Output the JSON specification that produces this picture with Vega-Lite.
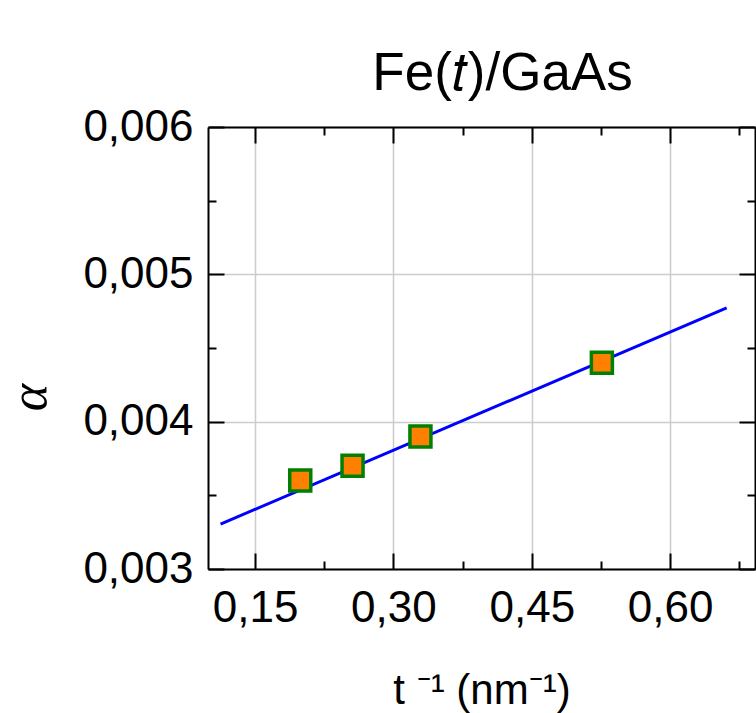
{
  "$schema": "https://vega.github.io/schema/vega-lite/v6.json",
  "width": 547,
  "height": 442,
  "autosize": {"type": "none"},
  "padding": {"left": 208, "top": 127, "right": 1, "bottom": 144},
  "background": "white",
  "config": {
    "view": {"stroke": null},
    "font": "Liberation Sans",
    "axis": {
      "domainColor": "black",
      "domainWidth": 2,
      "tickColor": "black",
      "tickWidth": 2,
      "labelFont": "Liberation Sans",
      "labelFontSize": 44,
      "labelColor": "black",
      "gridColor": "#cccccc",
      "gridWidth": 1.5
    }
  },
  "title": {
    "text": "Fe(𝑡)/GaAs",
    "font": "Liberation Sans",
    "fontSize": 53,
    "fontWeight": "normal",
    "color": "black",
    "anchor": "middle",
    "baseline": "alphabetic",
    "offset": -38,
    "dx": 21
  },
  "datasets": {
    "points": [
      {"t_inv": 0.199, "alpha": 0.0036},
      {"t_inv": 0.2557, "alpha": 0.0037},
      {"t_inv": 0.3293, "alpha": 0.0039},
      {"t_inv": 0.526, "alpha": 0.0044}
    ],
    "fit": [
      {"t_inv": 0.1126, "alpha": 0.003305},
      {"t_inv": 0.6613, "alpha": 0.004772}
    ]
  },
  "layer": [
    {
      "data": {"name": "fit"},
      "mark": {"type": "line", "color": "#0000ff", "strokeWidth": 3},
      "encoding": {
        "x": {
          "field": "t_inv",
          "type": "quantitative",
          "scale": {"domain": [0.099, 0.692], "nice": false, "zero": false},
          "axis": {
            "orient": "bottom",
            "values": [0.15, 0.225, 0.3, 0.375, 0.45, 0.525, 0.6, 0.675],
            "tickSize": {"condition": {"test": "abs(datum.value/0.15 - round(datum.value/0.15)) < 0.01", "value": -16}, "value": -8},
            "gridOpacity": {"condition": {"test": "abs(datum.value/0.15 - round(datum.value/0.15)) < 0.01", "value": 1}, "value": 0},
            "labelExpr": "abs(datum.value/0.15 - round(datum.value/0.15)) < 0.01 ? replace(format(datum.value, '.2f'), '.', ',') : ''",
            "labelPadding": 33,
            "title": "t ⁻¹ (nm⁻¹)",
            "titleFont": "Liberation Sans",
            "titleFontSize": 42,
            "titleFontWeight": "normal",
            "titleColor": "black",
            "titlePadding": 40
          }
        },
        "y": {
          "field": "alpha",
          "type": "quantitative",
          "scale": {"domain": [0.003, 0.006], "nice": false, "zero": false},
          "axis": {
            "orient": "left",
            "values": [0.003, 0.0035, 0.004, 0.0045, 0.005, 0.0055, 0.006],
            "tickSize": {"condition": {"test": "abs(datum.value*1000 - round(datum.value*1000)) < 0.01", "value": -16}, "value": -8},
            "gridOpacity": {"condition": {"test": "abs(datum.value*1000 - round(datum.value*1000)) < 0.01", "value": 1}, "value": 0},
            "labelExpr": "abs(datum.value*1000 - round(datum.value*1000)) < 0.01 ? replace(format(datum.value, '.3f'), '.', ',') : ''",
            "labelPadding": 31,
            "title": "α",
            "titleFont": "Liberation Serif",
            "titleFontStyle": "italic",
            "titleFontSize": 52,
            "titleFontWeight": "normal",
            "titleColor": "black",
            "titleX": -179,
            "titleY": 270,
            "titleAngle": -90,
            "titleAlign": "center",
            "titleBaseline": "middle"
          }
        }
      }
    },
    {
      "data": {"name": "points"},
      "mark": {"type": "point", "shape": "square", "size": 441, "filled": true, "fill": "#ff8000", "stroke": "#008000", "strokeWidth": 3.5, "opacity": 1},
      "encoding": {
        "x": {
          "field": "t_inv",
          "type": "quantitative",
          "axis": {
            "orient": "top",
            "values": [0.15, 0.225, 0.3, 0.375, 0.45, 0.525, 0.6, 0.675],
            "tickSize": {"condition": {"test": "abs(datum.value/0.15 - round(datum.value/0.15)) < 0.01", "value": -16}, "value": -8},
            "labels": false,
            "grid": false,
            "title": null
          }
        },
        "y": {
          "field": "alpha",
          "type": "quantitative",
          "axis": {
            "orient": "right",
            "values": [0.003, 0.0035, 0.004, 0.0045, 0.005, 0.0055, 0.006],
            "tickSize": {"condition": {"test": "abs(datum.value*1000 - round(datum.value*1000)) < 0.01", "value": -16}, "value": -8},
            "labels": false,
            "grid": false,
            "title": null
          }
        }
      }
    }
  ],
  "resolve": {"axis": {"x": "independent", "y": "independent"}}
}
